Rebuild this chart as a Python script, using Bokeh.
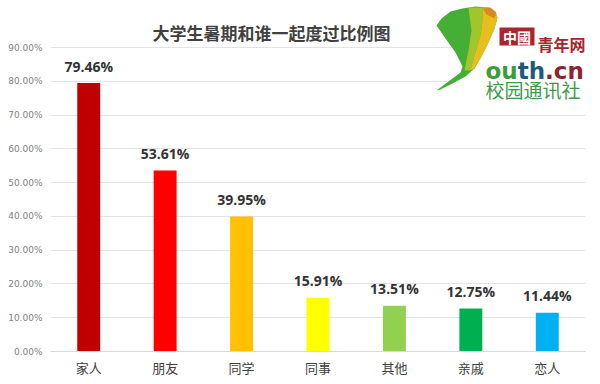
from bokeh.plotting import figure
from bokeh.models import (ColumnDataSource, FactorRange, Range1d, PrintfTickFormatter, FixedTicker,
                          Label, PolyAnnotation, BoxAnnotation)
from bokeh.embed import file_html
from bokeh.resources import INLINE
from bokeh.core.properties import value

categories = ["家人", "朋友", "同学", "同事", "其他", "亲戚", "恋人"]
percents = [79.46, 53.61, 39.95, 15.91, 13.51, 12.75, 11.44]
colors = ["#C00000", "#FF0000", "#FFC000", "#FFFF00", "#92D050", "#00B050", "#00B0F0"]
y_ticks = [0, 10, 20, 30, 40, 50, 60, 70, 80, 90]
title_text = "大学生暑期和谁一起度过比例图"

src = ColumnDataSource(dict(
    cat=categories, val=percents, color=colors,
    lab=[f"{v:.2f}%" for v in percents],
))

FONT = "Noto Sans CJK SC"
FL, FB = 50, 351  # frame left / bottom in page pixels (for placing decorations)

# frame spans to the top of the canvas so the title/logo annotations are not clipped;
# 90% gridline lands at y=47px
p = figure(width=600, height=384, output_backend="svg", toolbar_location=None,
           x_range=FactorRange(*categories, range_padding=0),
           y_range=Range1d(0, 90 * 351 / 304),
           min_border_left=50, min_border_right=15, min_border_top=0, min_border_bottom=33)
p.outline_line_color = None
p.background_fill_color = "white"
p.border_fill_color = "white"

p.vbar(x="cat", top="val", width=0.3, color="color", source=src, line_color=None)
p.text(x="cat", y="val", text="lab", source=src, text_align="center", text_baseline="alphabetic",
       y_offset=-17, text_font=value("Open Sans"), text_font_size="14px", text_font_style="bold",
       text_color="#333333")

p.yaxis.ticker = FixedTicker(ticks=y_ticks)
p.yaxis.formatter = PrintfTickFormatter(format="%.2f%%")
p.yaxis.axis_line_color = None
p.yaxis.major_tick_line_color = None
p.yaxis.minor_tick_line_color = None
p.yaxis.major_tick_out = 0
p.yaxis.major_tick_in = 0
p.yaxis.major_label_text_font = "DejaVu Sans"
p.yaxis.major_label_text_font_size = "9px"
p.yaxis.major_label_text_color = "#7f7f7f"
p.yaxis.major_label_standoff = 8

p.xaxis.axis_line_color = "#d9d9d9"
p.xaxis.major_tick_line_color = None
p.xaxis.minor_tick_line_color = None
p.xaxis.major_tick_out = 0
p.xaxis.major_tick_in = 0
p.xaxis.major_label_text_font = FONT
p.xaxis.major_label_text_font_size = "13px"
p.xaxis.major_label_text_color = "#404040"
p.xaxis.major_label_standoff = 6

p.xgrid.grid_line_color = None
p.ygrid.grid_line_color = "#e3e3e3"
p.ygrid.ticker = FixedTicker(ticks=y_ticks)


def fx(X):
    return X - FL


def fy(Y):
    return FB - Y


def poly(xs, ys, color):
    p.add_layout(PolyAnnotation(xs=[fx(v) for v in xs], ys=[fy(v) for v in ys],
                                xs_units="screen", ys_units="screen",
                                fill_color=color, fill_alpha=1, line_color=None))


def box(l, r, t, b, color):
    p.add_layout(BoxAnnotation(left=fx(l), right=fx(r), top=fy(t), bottom=fy(b),
                               left_units="screen", right_units="screen",
                               top_units="screen", bottom_units="screen",
                               fill_color=color, fill_alpha=1, line_color=None))


def label(X, Y, text, size, color, font=FONT, style="bold", align="left", baseline="alphabetic"):
    p.add_layout(Label(x=fx(X), y=fy(Y), x_units="screen", y_units="screen", text=text,
                       text_align=align, text_baseline=baseline,
                       text_font=font, text_font_size=size, text_color=color,
                       text_font_style=style))


# title
label(271, 32, title_text, "17px", "#404040", align="center")

# logo approximation (white backing, ginkgo leaf, site name)
box(455, 600, 0, 95, "white")
poly([436, 441, 450, 462, 475, 488, 495, 497, 494, 488, 481, 474, 465, 452, 440, 436, 448, 460, 462, 455, 445],
     [25, 18, 11, 8, 6, 7, 12, 17, 28, 42, 56, 68, 76, 83, 89, 90, 81, 72, 66, 52, 38], "#45AE34")
poly([468, 482, 482, 480, 474, 470, 464, 468, 471],
     [7, 7, 20, 35, 55, 70, 70, 50, 30], "#A3C52C")
poly([482, 488, 495, 497, 494, 488, 481, 474, 470, 474, 480, 482],
     [7, 7, 12, 17, 28, 42, 56, 68, 70, 55, 35, 20], "#E6BF1F")
poly([482, 490, 496, 494, 486], [8, 7, 12, 18, 14], "#D68B22")
box(499, 534, 27, 45, "#A8262E")
label(516.5, 36, "中國", "14px", "white", align="center", baseline="middle")
label(537, 43, "青年网", "16px", "#A6252B")
label(485, 70, "ou", "23px", "#3A9E3C", font="DejaVu Sans")
label(517.2, 70, "th", "23px", "#1F5A78", font="DejaVu Sans")
label(544.6, 70, ".cn", "23px", "#8E2230", font="DejaVu Sans")
label(485, 89, "校园通讯社", "19px", "#3C9A47", style="normal")

open("out.html", "w").write(file_html(p, INLINE))
